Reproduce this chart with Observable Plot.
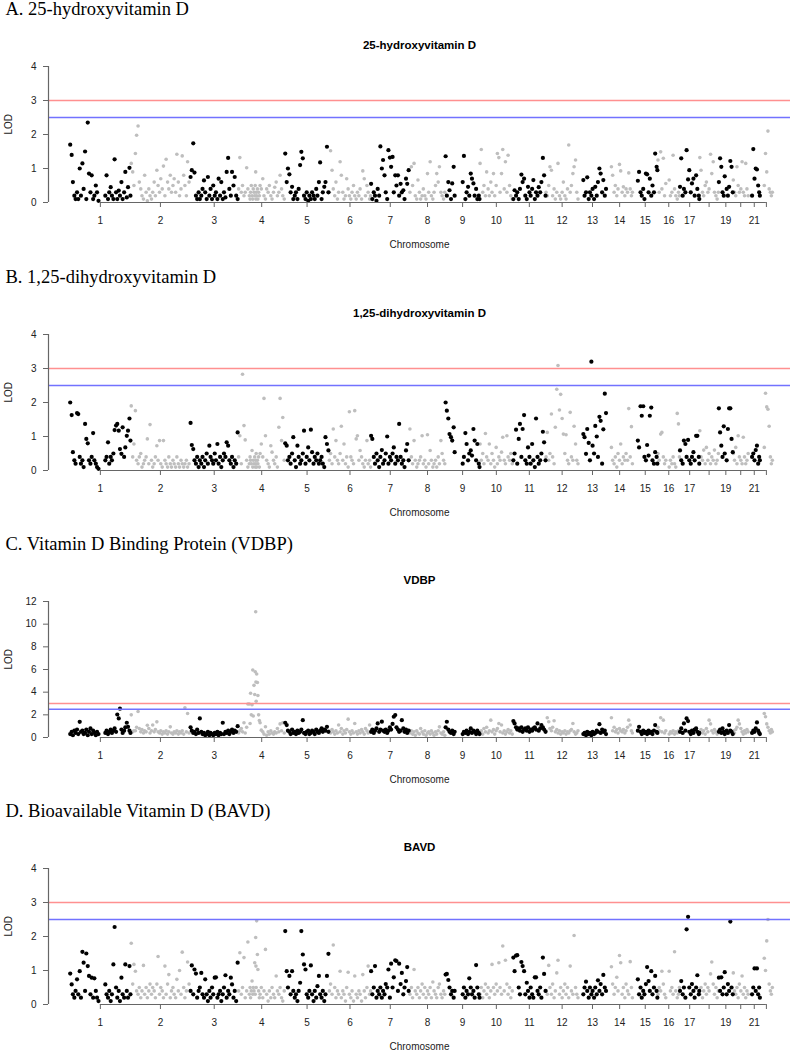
<!DOCTYPE html>
<html><head><meta charset="utf-8">
<script src="https://cdn.jsdelivr.net/npm/d3@7"></script>
<script src="https://cdn.jsdelivr.net/npm/@observablehq/plot@0.6"></script>
<style>
html,body{margin:0;padding:0;background:#fff;overflow:hidden;width:792px;height:1050px}
.panel{position:absolute;left:0;width:792px}
</style></head><body>
<div id="root"></div>
<script>
const chromosomes = [1,2,3,4,5,6,7,8,9,10,11,12,13,14,15,16,17,18,19,20,21,22];
const chromLengthMb = [249.25,243.2,198.0,191.15,180.9,171.1,159.1,146.4,141.2,135.5,135.0,133.85,115.2,107.35,102.5,90.35,81.2,78.1,59.1,63.0,48.1,51.3];
const chromTickLabels = ["1","2","3","4","5","6","7","8","9","10","11","12","13","14","15","16","17","","19","","21",""];

const positionsMb = [
[1,7,12,18,23,29,34,40,45,51,56,62,67,73,78,84,89,95,100,106,111,117,145,150,156,161,167,172,178,183,189,194,200,205,211,216,222,227,233,238,244,248],
[2,8,13,19,24,30,35,41,46,52,57,63,68,74,79,85,90,96,101,107,112,118,123,129,134,140,145,151,156,162,167,173,178,184,189,195,200,206,211,217,222,228,233,239],
[2,7,13,18,24,29,35,40,46,51,57,62,68,73,79,84,90,95,101,106,112,117,123,128,134,139,145,150,156,161,167,172,178,183,189,195],
[1,6,12,17,23,28,34,39,45,48,50,53,56,59,61,64,67,69,71,72,73,75,78,80,83,86,89,94,100,105,111,116,122,127,133,138,144,149,155,160,166,171,177,182,188],
[1,7,12,18,23,29,34,40,45,51,56,62,67,73,78,84,89,95,100,106,111,117,122,128,133,139,144,150,155,161,166,172,178],
[1,6,12,17,23,28,34,39,45,50,56,61,67,72,78,83,89,94,100,105,111,116,122,127,133,138,144,149,155,160,166,170],
[1,6,12,17,23,28,34,39,45,50,56,61,67,72,78,83,89,94,100,105,111,116,122,127,133,138,144,149,155],
[1,7,12,18,23,29,34,40,45,51,56,62,67,73,78,84,89,95,100,106,111,117,122,128,133,139,144],
[1,6,12,17,23,28,34,38,71,76,82,87,93,98,104,109,115,120,126,131,137,140],
[1,6,12,17,23,28,34,39,45,50,56,61,67,72,78,83,89,94,100,105,111,116,122,127,133],
[2,7,13,18,24,29,35,40,46,51,57,62,68,73,79,84,90,95,101,106,112,117,123,128,134],
[1,6,12,17,23,28,34,39,45,50,56,61,67,72,78,83,89,94,100,105,111,116,122,127,132],
[20,25,31,36,42,47,53,58,64,69,75,80,86,91,97,102,108,113],
[20,25,31,36,42,47,53,58,64,69,75,80,86,91,97,102,106],
[21,26,32,37,43,48,54,59,65,70,76,81,87,92,98,101],
[1,6,12,17,23,28,33,47,52,58,63,69,74,80,85,89],
[1,6,12,17,23,28,34,39,45,50,56,61,67,72,78,80],
[1,6,12,17,23,28,34,39,45,50,56,61,67,72,77],
[1,6,11,16,21,25,33,38,43,48,53,58],
[1,6,11,16,21,26,32,37,42,47,52,57,62],
[15,20,25,30,35,40,44,47],
[17,22,27,32,37,42,46,50]
];

const lod25OHD = [
[1.7,1.4,.6,.2,.1,.3,.1,1.0,.2,1.15,.4,1.5,.1,2.35,.85,.3,.8,.1,.2,.5,.3,.05,.2,.8,.1,.3,.45,.2,.1,1.27,.3,.1,.35,.2,.6,.1,.3,.9,.15,.45,1.02,.2],
[1.15,.9,.5,1.44,1.98,2.25,.6,.4,.2,.1,.8,.3,.05,.4,.2,.1,.3,.6,.2,.95,.5,.3,.7,.4,1.07,.2,1.27,.6,.4,.8,.3,.5,.7,.3,1.42,.6,.2,.4,1.37,.8,.5,.2,1.2,.6],
[.75,.95,1.74,.88,.2,.1,.3,.1,.2,.4,.65,.3,.1,.75,.2,.4,.1,.5,.2,.3,.1,.7,.2,.6,.1,.3,.15,.9,1.31,.4,.2,.9,.5,.75,.2,.1],
[.4,1.32,.3,.5,.2,.3,1.02,.4,.2,.1,.3,.5,.2,.1,.4,.3,.2,.5,.9,.1,.3,.2,.4,.1,.3,.2,.5,.4,.7,.2,.1,.4,.3,.5,.2,.1,.3,.45,.6,.2,.3,.8,.4,.2,.1],
[1.44,.6,1.0,.83,.3,.46,.1,.2,.3,.1,.4,1.1,1.49,1.3,.2,.1,.3,.05,.2,.1,.3,.2,.1,.4,.2,.6,1.18,.1,.3,.46,.6,1.64,.3],
[.3,1.52,.95,.4,.2,.6,.1,.3,1.2,.8,.3,.1,.2,.7,.4,.2,.1,.3,.5,.2,.1,.3,.2,.4,.1,.93,.7,.2,.5,.3,.1,.2],
[.55,.1,.3,.2,.05,.4,.2,1.65,1.0,1.25,.8,.3,.1,1.54,1.32,1.05,1.34,.3,.8,.5,.8,.2,.55,.3,.36,.1,.7,.55,.95],
[.3,1.05,.5,1.15,.2,.1,.66,.3,.1,.2,.4,.2,.1,.85,.3,1.2,.2,.1,.3,.5,.85,.6,1.05,.3,.2,.1,.3],
[1.36,.2,.6,.36,.1,.56,1.05,.2,.6,1.37,.1,.3,.46,.2,.85,.7,.56,.2,.4,.1,.2,.1],
[1.15,1.56,.3,.5,.2,.9,.4,.2,.6,.3,.85,.2,.5,1.44,1.32,.3,.85,1.56,.4,1.2,.3,1.39,.5,.2,.1],
[.1,.36,.2,.3,.1,.4,.82,.6,.7,.2,.1,.46,.3,.2,.4,.66,.1,.3,.2,.45,.3,.6,1.31,.8,.2],
[.3,.2,.5,1.05,.95,.2,.4,.1,.3,1.15,.2,.1,.3,.6,.2,.1,.4,1.69,.3,.5,.85,1.05,1.25,.3,.1],
[.66,.2,.3,.74,.1,.3,.2,.4,.1,.46,.2,.6,1.0,.85,.3,.66,.2,.4],
[1.05,.8,.3,.5,.2,.4,1.12,.93,.3,.46,.2,.4,.3,.87,.4,.2,.3],
[.64,.9,.3,.2,.4,.1,.85,.83,.3,.7,.2,.5,.3,1.44,1.05,.95],
[1.25,.3,1.49,.4,1.3,.2,.56,.66,.2,.3,1.39,.4,.2,.1,.3,.2],
[.46,1.3,.2,.4,.3,1.54,.68,.95,.3,.56,.7,.2,.8,.4,.2,.1],
[1.32,.95,.3,.2,.5,.6,.3,.4,1.42,.85,1.2,.3,.2,.1,.3],
[.6,1.3,1.05,.3,.2,.77,.4,.2,.46,1.22,1.05,.3],
[.66,.3,.2,1.05,.5,.3,.4,1.2,.3,.2,1.15,.4,.2],
[.2,1.57,.7,1.0,.97,.5,.3,.2],
[.5,1.44,.9,2.1,.4,.3,.2,.3]
];

const lod125OHD = [
[2.0,1.63,.54,.3,.2,1.69,1.66,.4,.2,.3,.1,1.37,.93,.8,.3,.2,.4,1.1,.3,.2,.1,.05,.3,.4,.83,.2,.4,.3,.5,1.19,1.32,1.37,1.17,.63,.49,1.27,.4,.68,1.02,1.17,1.53,.88],
[1.9,.4,.78,1.76,.3,.2,.4,.5,.1,.2,.3,.4,.93,.2,1.35,.3,.1,.2,.4,.73,.3,.88,.2,.1,.88,.3,.2,.1,.4,.2,.1,.3,.2,.1,.4,.2,.1,.3,.2,.1,.2,.3,.1,.2],
[1.4,.75,.63,.3,.2,.4,.1,.3,.2,.4,.1,.3,.5,.2,.73,.4,.3,.2,.5,.3,.78,.2,.4,.1,.3,.5,.4,.83,.73,.3,.2,.4,.1,.3,.2,1.12],
[.4,1.02,.2,2.83,1.32,.9,.3,.1,.2,.4,.3,.2,.59,.1,.3,.2,.4,.1,.3,.2,.5,.1,.3,.2,.4,.1,.5,.78,.4,2.12,1.02,.3,.2,.1,.73,.54,.3,.2,.4,.1,1.27,2.12,.88,1.56,.3],
[.8,.73,.3,.4,.2,.5,.98,.3,.1,.73,.4,.2,.3,.5,1.17,.2,.4,.68,.3,1.2,.54,.2,.4,.3,.5,.2,.3,.4,.2,.1,.98,.78,.59],
[.3,.5,.2,1.22,.4,.88,.3,.2,.5,1.3,.3,.78,.2,.4,.1,1.73,.4,.3,.2,1.76,.93,1.02,.3,.59,.4,.2,.1,.3,.88,.2,.3,.1],
[1.02,.93,.4,.2,.5,.3,.1,.4,.6,.2,.3,.5,1.0,.2,.4,.3,.5,.68,.2,.4,.3,1.37,.4,.2,.3,.1,.59,.78,.3],
[1.22,.4,.2,.88,.3,.1,.2,.3,.4,1.02,.2,.3,.1,1.05,.2,.59,.3,.1,.2,.3,.1,.4,.2,.88,.5,.3,.2],
[2.0,1.76,1.53,1.07,.98,.88,1.27,.54,.2,.4,1.1,.78,.3,.5,.59,.44,1.22,.88,.3,.78,.2,.1],
[.78,.3,.5,.2,1.09,.4,.3,.78,.2,.5,.3,.1,.68,.2,.4,.3,.54,.98,.3,.2,1.02,.4,.3,.5,.2],
[.3,.5,1.2,.2,.93,1.37,.4,1.22,1.63,.3,.2,.68,.4,.2,.78,.3,.1,1.53,.4,.2,.3,.5,1.14,.83,.3],
[.4,1.12,.3,.5,1.66,.4,.2,1.27,2.39,3.09,1.78,2.24,1.53,1.07,.5,1.05,.3,.2,1.71,.4,.3,1.3,.78,.3,.2],
[1.07,.98,.49,1.22,.81,.3,3.2,.73,.5,1.31,1.0,.4,1.58,1.46,.2,1.21,2.26,1.69],
[.68,.3,.2,.4,.1,.5,.3,.78,.2,.4,.3,.5,.3,1.82,.4,1.29,.2],
[.88,.68,1.89,1.61,1.89,.4,.3,.75,.44,1.61,1.85,.3,.2,.54,.4,.2],
[.5,.3,1.07,1.12,.4,.2,.3,.1,.3,.2,.4,.2,.1,1.68,1.37,.4],
[.59,.3,.2,.88,.78,.4,.9,.3,.2,.4,.54,.3,1.02,1.02,.4,.2],
[1.17,.4,.3,.6,.2,.68,.3,.5,.2,.4,.3,.6,.2,.3,.5],
[1.83,1.12,.73,.4,1.3,.5,.3,1.22,1.83,1.83,.93,.54],
[.5,.3,.68,.2,1.02,.4,.3,.2,.98,.4,.2,.3,.5],
[.4,.5,.3,.6,.73,.2,.4,.3],
[.68,2.27,1.87,1.8,1.3,.4,.2,.3]
];

const lodVDBP = [
[.3,.5,.2,.6,.4,.7,.3,1.38,.5,.6,.3,.4,.7,.2,.5,.8,.3,.6,.4,.2,.5,.3,.4,.6,.3,.5,.7,.4,.6,.8,.5,2.03,1.68,2.54,.7,.4,.6,.9,1.3,.94,.6,.4],
[2.0,.5,.6,.6,.9,2.3,.8,.5,.7,.4,.6,.5,1.08,.8,.4,.6,1.1,.5,.7,1.38,.5,.4,.6,.3,.5,.4,.6,.3,.5,.94,.4,.3,.5,.4,.6,.3,.5,.4,.6,.3,2.62,.5,2.12,.4],
[.9,.6,.4,.5,.3,.7,.4,1.68,.5,.3,.4,.2,.3,.5,.2,.4,.3,.2,.4,.3,.5,.2,.4,.3,1.3,.3,.5,.4,.6,.3,.5,.7,.4,.6,.5,1.0],
[.4,.6,.8,.5,1.3,.4,.9,2.95,2.95,1.24,3.9,2.0,2.9,5.95,1.9,4.6,3.8,5.8,11.1,4.9,3.2,5.6,4.85,3.7,2.0,1.5,1.3,.65,.5,.3,.95,.2,.5,.3,.6,.4,.3,.5,.4,.8,.5,1.2,.6,1.3,.4],
[1.3,1.1,.6,.5,.3,.7,.4,.5,.3,.6,.4,.5,.7,1.53,.4,.3,.5,.6,.3,.4,.6,.5,.3,.7,.5,.4,.6,.8,.5,.7,.6,.94,.5],
[.6,.4,.7,.5,.3,.6,.4,1.1,.5,.8,.3,.6,.4,.7,1.62,.5,.3,.6,.4,1.24,.5,.3,.6,.4,.7,.5,.3,.8,.6,.4,1.1,.5],
[.5,.7,.4,.6,.8,1.24,.5,.7,1.4,.6,.5,.7,.4,.6,.9,.7,1.2,1.83,1.98,.9,.7,.5,.6,1.53,.8,.5,.7,.4,.6],
[.4,.6,.3,.5,.2,.6,.4,.3,.8,.5,.3,.6,.2,.4,.5,.3,.6,.4,.2,.5,.3,.6,.94,.4,.3,.5,.2],
[.9,1.39,.7,.5,.4,.6,.3,.5,.3,.5,.4,.6,.3,.5,.8,.4,.6,.5,.3,.6,.4,.3],
[.4,.6,.3,.8,.5,.9,.4,.6,1.53,.5,.7,.3,.6,.8,1.24,.5,1.1,.4,.6,.3,.5,.7,.4,.6,.3],
[1.45,1.24,.9,.7,.8,.6,.9,.5,.7,.8,.6,.9,.5,.7,.6,.8,.9,.7,1.24,.6,.8,1.1,.9,.7,.5],
[.6,1.74,1.39,.8,.6,.9,1.48,.5,.7,.4,.6,.3,.5,.4,.6,.3,.5,.4,.6,.7,1.24,.5,.3,.4,.6],
[.3,.4,.2,.5,.3,.4,.2,.5,.3,.4,.6,.5,1.18,.4,.7,.5,.6,.3],
[1.74,.6,.9,.5,.7,.4,.8,.6,.5,.7,.4,.6,.9,1.53,1.1,.6,.4],
[.6,.94,.5,.3,.6,.4,.5,.3,.6,.4,.5,.3,.6,1.1,.5,.4],
[.9,.6,1.74,.5,1.53,.4,.6,.3,.5,.4,.6,.3,.5,.4,.6,.5],
[.5,.8,.4,1.24,.6,1.68,1.45,.5,.3,.6,.4,.7,.8,.5,.3,.4],
[.5,.7,.4,.6,.3,.8,.5,1.53,1.2,.6,.4,.7,.5,.3,.6],
[.5,.7,.4,.8,.5,.3,.6,.4,1.1,.6,.5,.3],
[.6,.4,.7,.9,1.53,1.2,.8,.5,.3,.6,.4,.7,.5],
[.4,.6,.5,.8,1.33,.6,.4,.3],
[2.12,1.83,1.2,.9,.6,.4,.7,.5]
];

const lodBAVD = [
[.91,.59,.3,.2,.4,.74,.3,.98,.2,1.55,1.23,.4,1.5,1.13,.84,.3,.79,.2,.77,.4,.2,.1,.59,.3,.2,.4,.1,.3,1.18,2.28,.5,.2,.4,.1,.79,.3,.2,1.18,.4,.2,1.13,.3],
[1.8,.6,1.18,.98,.4,.3,.5,.2,.4,1.15,.3,.5,.2,.4,.6,.3,.5,.4,.2,.6,1.41,.3,.5,.4,.2,1.13,.3,.6,.88,.2,.4,.5,.3,.2,.74,.4,1.0,.3,1.54,.5,.2,.4,1.25,.6],
[.4,1.15,.3,1.03,.91,.2,.4,.5,.93,.3,.2,.74,.3,.1,.4,.2,.5,.3,.79,.8,.2,.3,.4,.1,.3,.5,.86,.2,.4,.3,.79,.59,.2,.4,.1,1.23],
[.4,1.52,.3,.5,1.38,.2,.4,1.84,.3,.5,.2,.4,.69,.3,.5,.4,1.23,.3,1.97,1.13,.5,2.46,1.47,1.03,.4,.2,.3,.5,.2,.4,1.62,.3,.1,.4,.2,.5,.3,.2,.84,.4,.3,.5,.2,.1,.4],
[2.16,.98,.5,.84,.3,.98,.4,.2,.3,.1,.4,.64,2.16,1.47,1.18,1.03,.3,.2,.4,1.15,.3,.1,.4,.2,.54,.84,.3,.2,.4,.1,.3,.84,1.49],
[.4,.6,.3,1.75,.5,.2,.4,.3,.98,.2,.4,.3,.1,.5,.95,.3,.2,.4,.1,.84,.3,.2,.4,.3,.1,.88,.4,.2,.5,1.13,.3,.4],
[.98,.3,.5,1.13,.2,.4,.3,.5,.2,.4,.3,.6,.5,1.03,.2,1.2,.5,.8,1.3,1.28,.4,1.2,.6,.93,.3,.5,.69,1.1,.4],
[.3,.5,.2,1.03,.4,.3,.5,.2,.4,.6,.3,.5,.2,.4,.3,.5,.2,.66,.4,.3,.2,.5,.6,.3,.2,.4,.3],
[.88,.9,.72,.5,.3,.4,.2,.4,.3,.5,.2,.4,.3,.77,.5,.3,.4,.2,1.16,.5,.3,.2],
[.3,.5,.2,.4,.6,.3,.5,.2,.4,1.18,.5,.3,.6,.4,1.23,.5,.3,1.72,.4,1.3,.6,.3,.5,.2,.4],
[1.38,.98,1.44,1.45,.5,.3,1.25,1.13,.98,.3,.64,.4,.2,.5,.3,.2,.8,.8,.4,.3,.5,.2,1.38,.9,.4],
[.4,.3,1.15,.5,.3,.6,.2,.4,.93,1.3,.3,.5,.2,.4,.6,.3,.5,.2,1.13,.4,.3,2.03,.5,.3,.2],
[.3,.5,.67,.4,.2,.5,.3,.4,.2,.5,.3,.71,.4,.6,.3,.87,.5,.4],
[1.11,.6,.3,.5,.8,.4,1.44,1.23,.3,.5,.2,.6,.4,.3,1.26,.5,.2],
[.74,.3,.5,.2,.4,.3,.6,1.1,.69,.4,.98,.3,.5,.84,.4,.2],
[.3,.5,.4,.98,.6,.3,.2,.98,.4,.5,.3,1.55,.4,.2,.3,.5],
[.4,.69,.3,.5,.2,2.21,2.58,.5,.3,.6,.4,.2,.5,.86,.3,.4],
[.3,.5,.2,.4,.6,.3,.5,.4,.9,1.25,.6,.3,.5,.2,.4],
[.79,.4,.8,.3,.5,.95,.3,.6,.4,2.44,.5,.3],
[.93,.4,.3,.5,.2,.6,.4,.84,.3,.5,.2,.4,.3],
[.3,.5,1.06,.4,1.06,.3,.5,.2],
[1.36,1.0,1.87,2.5,.6,.4,.3,.5]
];

const panelHeadings = ["A. 25-hydroxyvitamin D","B. 1,25-dihydroxyvitamin D","C. Vitamin D Binding Protein (VDBP)","D. Bioavailable Vitamin D (BAVD)"];
const panelTitles = ["25-hydroxyvitamin D","1,25-dihydroxyvitamin D","VDBP","BAVD"];
const panelLods = [lod25OHD, lod125OHD, lodVDBP, lodBAVD];
const panelYMax = [4, 4, 12, 4];
const panelYTicks = [[0,1,2,3,4],[0,1,2,3,4],[0,2,4,6,8,10,12],[0,1,2,3,4]];
const thresholdRed = 3;
const thresholdBlue = 2.5;
const yAxisTitle = "LOD";
const xAxisTitle = "Chromosome";

// ---- layout ----
const panelTop = [0, 268, 535, 802];
const xDomain = [-88, 2954];
const sans = "'Liberation Sans', Arial, Helvetica, sans-serif";
const serif = "'Liberation Serif', 'Times New Roman', Times, serif";

// sanity check
const problems = [];
panelLods.forEach((lods, p) => lods.forEach((arr, c) => {
  if (arr.length !== positionsMb[c].length) problems.push(`panel ${p} chr ${c+1}: ${arr.length} vs ${positionsMb[c].length}`);
}));
if (problems.length) throw new Error("Length mismatch: " + problems.join("; "));

const starts = [];
let acc = 0;
chromLengthMb.forEach(L => { starts.push(acc); acc += L; });
const mids = chromLengthMb.map((L, i) => starts[i] + L / 2);
const labelByMid = new Map(mids.map((m, i) => [m, chromTickLabels[i]]));

const root = document.getElementById("root");

panelLods.forEach((lods, p) => {
  const rows = [];
  chromosomes.forEach((c, ci) => {
    positionsMb[ci].forEach((pos, k) => {
      rows.push({chr: c, x: starts[ci] + pos, lod: lods[ci][k], odd: c % 2 === 1});
    });
  });
  const yMax = panelYMax[p];
  const chart = Plot.plot({
    width: 792,
    height: 248,
    marginTop: 66,
    marginBottom: 46,
    marginLeft: 48,
    marginRight: 2,
    x: {domain: xDomain},
    y: {domain: [0, yMax]},
    style: {fontFamily: sans, fontSize: "10px", color: "#222", background: "transparent", overflow: "visible"},
    marks: [
      Plot.dot(rows.filter(d => !d.odd), {x: "x", y: "lod", r: 1.8, fill: "#bebebe"}),
      Plot.dot(rows.filter(d => d.odd), {x: "x", y: "lod", r: 2.1, fill: "#000"}),
      Plot.ruleY([thresholdRed], {stroke: "#ff9090", strokeWidth: 1.5}),
      Plot.ruleY([thresholdBlue], {stroke: "#7272ff", strokeWidth: 1.5}),
      Plot.ruleX([xDomain[0]], {y1: 0, y2: yMax, stroke: "#666", strokeWidth: 1.2}),
      Plot.ruleY([0], {x1: mids[0], x2: mids[mids.length - 1], stroke: "#666", strokeWidth: 1.2}),
      Plot.axisX({ticks: mids, tickFormat: d => labelByMid.get(d), tickSize: 5, tickPadding: 9.5, label: null, stroke: "#666", fill: "#222"}),
      Plot.axisY({ticks: panelYTicks[p], tickFormat: d => String(d), tickSize: 5, tickPadding: 7, label: null, stroke: "#666", fill: "#222"}),
      Plot.text([yAxisTitle], {text: d => d, frameAnchor: "left", dx: -40, rotate: -90, fontSize: 10, fill: "#222"}),
      Plot.text([xAxisTitle], {text: d => d, frameAnchor: "bottom", dy: 45, lineAnchor: "bottom", fontSize: 10, fill: "#222"}),
      Plot.text([panelTitles[p]], {text: d => d, frameAnchor: "top", dy: -18, lineAnchor: "bottom", fontSize: 11.5, fontWeight: "bold", fill: "#000"}),
      Plot.text([panelHeadings[p]], {text: d => d, frameAnchor: "top-left", dx: -43, dy: -51.5, textAnchor: "start", lineAnchor: "bottom", fontSize: 18.5, fontFamily: serif, fill: "#000"})
    ]
  });
  const div = document.createElement("div");
  div.className = "panel";
  div.style.top = panelTop[p] + "px";
  div.appendChild(chart);
  root.appendChild(div);
});
</script>
</body></html>
